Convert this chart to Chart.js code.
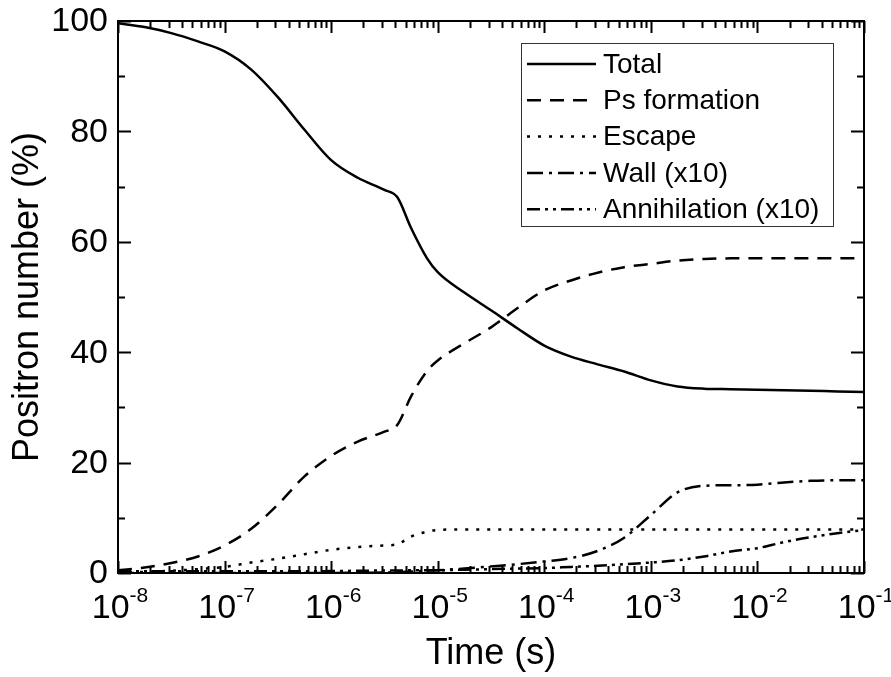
<!DOCTYPE html>
<html>
<head>
<meta charset="utf-8">
<script src="https://cdn.jsdelivr.net/npm/chart.js@4.4.1/dist/chart.umd.min.js"></script>
<style>
  html, body { margin: 0; padding: 0; background: #fff; }
  #wrap { width: 891px; height: 677px; }
</style>
</head>
<body>
<div id="wrap"><canvas id="chart"></canvas></div>
<script>
// time points as powers of ten (seconds)
var timeExp   = [-8, -7.75, -7.5, -7.25, -7, -6.75, -6.5, -6.25, -6, -5.75, -5.5, -5.38, -5.25, -5.1, -5, -4.75, -4.5, -4.25, -4, -3.75, -3.5, -3.25, -3, -2.75, -2.5, -2.25, -2, -1.75, -1.5, -1.25, -1];
var totalPct  = [99.6, 98.9, 97.8, 96.3, 94.5, 91.2, 86.2, 80.3, 74.8, 71.6, 69.4, 68.1, 62.5, 57.0, 54.5, 50.8, 47.6, 44.3, 41.2, 39.2, 37.8, 36.5, 34.9, 33.8, 33.4, 33.3, 33.2, 33.1, 33.0, 32.9, 32.8];
var psPct     = [0.5, 1.0, 1.8, 3.0, 5.0, 8.0, 12.4, 17.5, 21.2, 23.8, 25.6, 26.8, 32.0, 36.6, 38.5, 41.6, 44.5, 48.0, 51.2, 53.0, 54.4, 55.4, 56.0, 56.6, 56.9, 57.0, 57.0, 57.0, 57.0, 57.0, 57.0];
var escapePct = [0.1, 0.2, 0.4, 0.7, 1.1, 1.9, 2.6, 3.4, 4.2, 4.7, 5.0, 5.2, 6.6, 7.5, 7.8, 7.9, 7.9, 7.9, 7.9, 7.9, 7.9, 7.9, 7.9, 7.9, 7.9, 7.9, 7.9, 7.9, 7.9, 7.9, 7.9];
var wallPct   = [0, 0, 0, 0, 0, 0, 0, 0, 0, 0.05, 0.1, 0.15, 0.25, 0.4, 0.5, 0.8, 1.2, 1.6, 2.1, 2.7, 4.0, 6.4, 10.5, 14.6, 15.8, 15.9, 16.0, 16.4, 16.7, 16.8, 16.8];
var annihPct  = [0.3, 0.3, 0.3, 0.3, 0.3, 0.3, 0.3, 0.3, 0.35, 0.4, 0.45, 0.45, 0.5, 0.5, 0.5, 0.6, 0.7, 0.8, 0.9, 1.1, 1.3, 1.6, 1.9, 2.3, 3.0, 3.9, 4.5, 5.6, 6.5, 7.2, 7.8];

var seriesNames = ['Total', 'Ps formation', 'Escape', 'Wall (x10)', 'Annihilation (x10)'];
var xTickExp = [-8, -7, -6, -5, -4, -3, -2, -1];
var yTicks = [0, 20, 40, 60, 80, 100];
var yMinorTicks = [10, 30, 50, 70, 90];

var FONT = '"Liberation Sans", Arial, sans-serif';

function pts(vals) {
  return timeExp.map(function (e, i) { return { x: Math.pow(10, e), y: vals[i] }; });
}

function line(label, vals, dash) {
  return {
    label: label,
    data: pts(vals),
    borderColor: '#000',
    borderWidth: 2.5,
    borderDash: dash,
    pointRadius: 0,
    fill: false,
    cubicInterpolationMode: 'monotone'
  };
}

// frame, inward ticks, tick labels, titles and legend
var decorations = {
  id: 'decorations',
  afterDraw: function (chart) {
    var ctx = chart.ctx, a = chart.chartArea, x = chart.scales.x, y = chart.scales.y;
    ctx.save();
    ctx.strokeStyle = '#000';
    ctx.fillStyle = '#000';
    ctx.lineWidth = 2;
    ctx.strokeRect(a.left, a.top, a.right - a.left, a.bottom - a.top);

    ctx.beginPath();
    // x ticks bottom and top
    for (var e = xTickExp[0]; e <= xTickExp[xTickExp.length - 1]; e++) {
      for (var m = 1; m < 10; m++) {
        if (e === xTickExp[xTickExp.length - 1] && m > 1) break;
        var px = Math.round(x.getPixelForValue(m * Math.pow(10, e))) + 0.5;
        var len = m === 1 ? 12 : 7;
        ctx.moveTo(px, a.bottom); ctx.lineTo(px, a.bottom - len);
        ctx.moveTo(px, a.top); ctx.lineTo(px, a.top + len);
      }
    }
    // y ticks left and right
    yTicks.concat(yMinorTicks).forEach(function (v) {
      var py = Math.round(y.getPixelForValue(v)) + 0.5;
      var len = yTicks.indexOf(v) >= 0 ? 13 : 7;
      ctx.moveTo(a.left, py); ctx.lineTo(a.left + len, py);
      ctx.moveTo(a.right, py); ctx.lineTo(a.right - len, py);
    });
    ctx.stroke();

    // y tick labels
    ctx.font = '34px ' + FONT;
    ctx.textAlign = 'right';
    ctx.textBaseline = 'middle';
    yTicks.forEach(function (v) {
      ctx.fillText(String(v), a.left - 10, y.getPixelForValue(v) + 1);
    });

    // x tick labels 10^n
    ctx.textBaseline = 'alphabetic';
    ctx.textAlign = 'left';
    xTickExp.forEach(function (e) {
      var px = x.getPixelForValue(Math.pow(10, e));
      ctx.font = '34px ' + FONT;
      var wb = ctx.measureText('10').width;
      ctx.font = '21px ' + FONT;
      var ws = ctx.measureText(String(e)).width;
      var left = px - (wb + ws) / 2 + 2;
      ctx.font = '34px ' + FONT;
      ctx.fillText('10', left, a.bottom + 45);
      ctx.font = '21px ' + FONT;
      ctx.fillText(String(e), left + wb, a.bottom + 29);
    });

    // axis titles
    ctx.font = '36px ' + FONT;
    ctx.textAlign = 'center';
    ctx.textBaseline = 'middle';
    ctx.fillText('Time (s)', (a.left + a.right) / 2, a.bottom + 81);
    ctx.save();
    ctx.translate(28, (a.top + a.bottom) / 2);
    ctx.rotate(-Math.PI / 2);
    ctx.fillText('Positron number (%)', 0, 0);
    ctx.restore();

    // legend
    var bx = a.right - 343, by = a.top + 22, bw = 312, bh = 183, row = 36.3;
    ctx.lineWidth = 1;
    ctx.strokeStyle = '#333';
    ctx.strokeRect(bx + 0.5, by + 0.5, bw, bh);
    ctx.font = '28px ' + FONT;
    ctx.textAlign = 'left';
    chart.data.datasets.forEach(function (ds, i) {
      var ly = by + 21 + i * row;
      ctx.save();
      ctx.strokeStyle = '#000';
      ctx.lineWidth = 2.5;
      ctx.setLineDash(ds.borderDash || []);
      ctx.beginPath();
      ctx.moveTo(bx + 6, ly); ctx.lineTo(bx + 75, ly);
      ctx.stroke();
      ctx.restore();
      ctx.fillText(ds.label, bx + 82, ly + 1);
    });
    ctx.restore();
  }
};

new Chart(document.getElementById('chart'), {
  type: 'line',
  data: {
    datasets: [
      line(seriesNames[0], totalPct, []),
      line(seriesNames[1], psPct, [14, 9]),
      line(seriesNames[2], escapePct, [3, 8]),
      line(seriesNames[3], wallPct, [16, 6, 3, 6]),
      line(seriesNames[4], annihPct, [13, 5, 3, 5, 3, 5])
    ]
  },
  options: {
    responsive: true,
    maintainAspectRatio: false,
    animation: false,
    layout: { padding: { left: 110, right: 27, top: 21, bottom: 96 } },
    plugins: { legend: { display: false }, tooltip: { enabled: false } },
    scales: {
      x: {
        type: 'logarithmic',
        min: 1e-8, max: 1e-1,
        grid: { display: false },
        border: { display: false },
        ticks: { display: false }
      },
      y: {
        min: 0, max: 100,
        grid: { display: false },
        border: { display: false },
        ticks: { display: false }
      }
    }
  },
  plugins: [decorations]
});
</script>
</body>
</html>
